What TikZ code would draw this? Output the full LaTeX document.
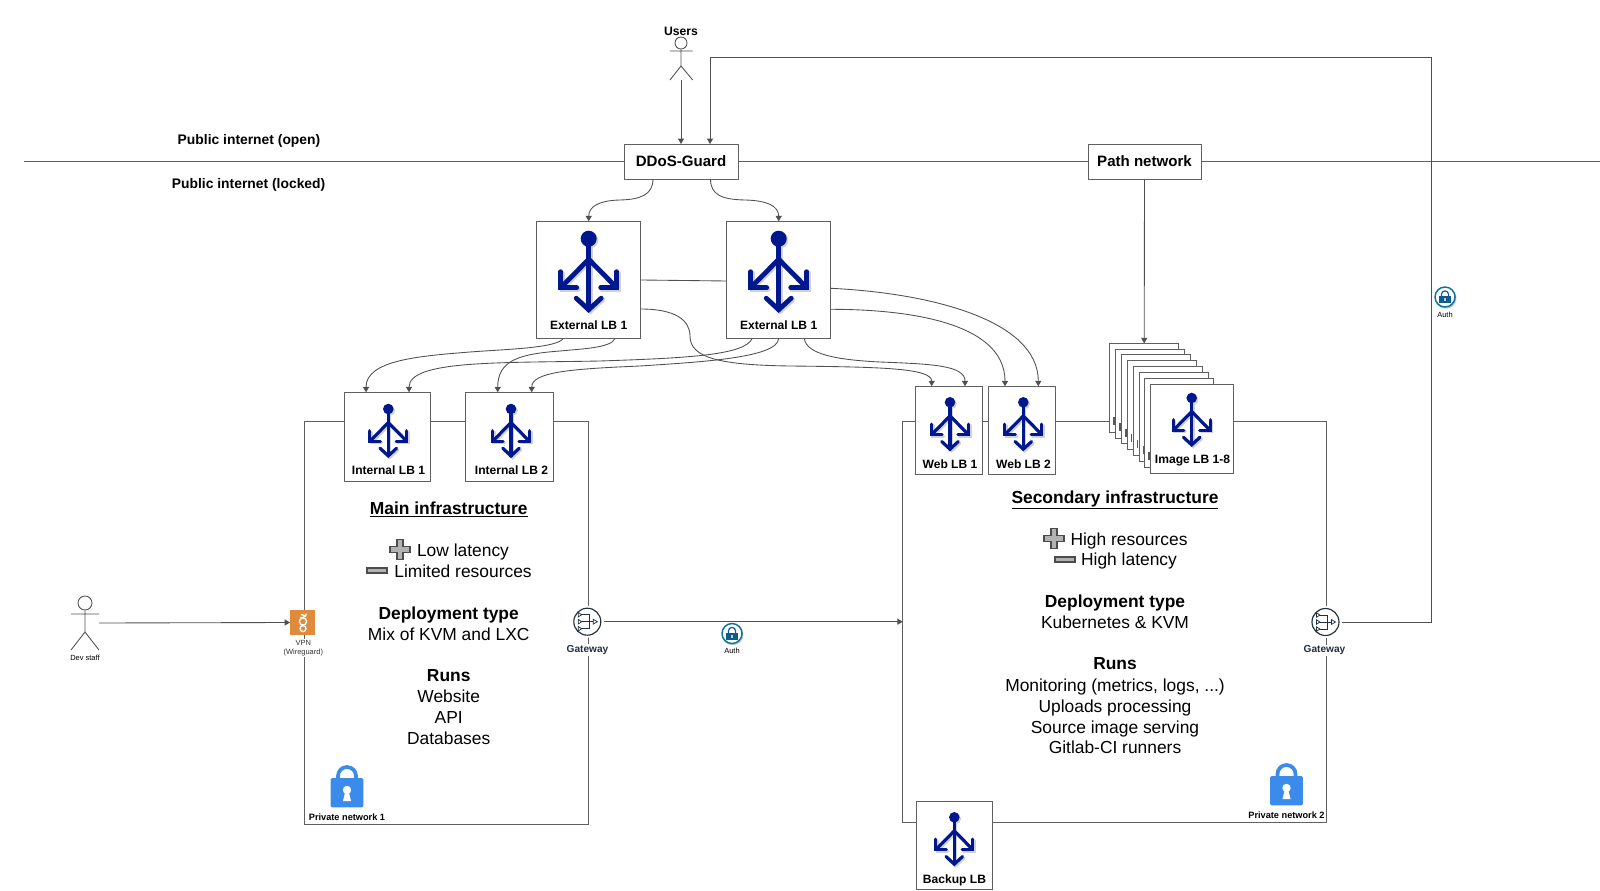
\documentclass[tikz,border=0pt]{standalone}
\usepackage{fontspec}
\setmainfont{Liberation Sans}
\usetikzlibrary{arrows.meta,calc}
\definecolor{lnk}{HTML}{505050}
\definecolor{netl}{HTML}{606060}
\definecolor{lbblue}{HTML}{00188F}
\definecolor{lockblue}{HTML}{3B8BEB}
\definecolor{navy}{HTML}{232F3E}
\definecolor{authc}{HTML}{0F5C8C}
\definecolor{wg}{HTML}{E08A3C}
\def\uu{0.75pt}
\tikzset{
  x=0.75pt,y=-0.75pt,
  conn/.style={draw=lnk,line width=0.65pt},
  arr/.style={conn,-{Triangle[width=4.5pt,length=4pt]}},
  netline/.style={draw=netl,line width=0.7pt},
  boxn/.style n args={2}{draw=netl,fill=white,line width=0.7pt,inner sep=0pt,outer sep=0pt,rectangle,minimum width=#1*\uu,minimum height=#2*\uu},
  lblabel/.style={font=\bfseries\fontsize{9.05}{11}\selectfont,inner sep=0pt,text height=8.5pt,text depth=2pt},
  bigb/.style={font=\bfseries\fontsize{13.05}{15}\selectfont,inner sep=0pt,text height=12pt,text depth=3pt},
  bign/.style={font=\fontsize{13.05}{15}\selectfont,inner sep=0pt,text height=12pt,text depth=3pt},
  pubt/.style={font=\bfseries\fontsize{10.4}{12}\selectfont,inner sep=0pt,text height=10.5pt,text depth=2.4pt},
  mainbox/.style={font=\bfseries\fontsize{11.3}{13}\selectfont},
  tiny/.style={font=\fontsize{5.6}{6.8}\selectfont,inner sep=0.5pt,align=center},
  privt/.style={font=\bfseries\fontsize{6.9}{9}\selectfont,inner sep=0pt},
  gwt/.style={font=\bfseries\fontsize{7.6}{9}\selectfont,text=navy,fill=white,inner sep=1pt},
  gwc/.style={circle,fill=white,inner sep=0pt,minimum size=32*\uu},
  actorl/.style={draw=lnk,line width=0.65pt},
}
\newcommand{\lbglyph}{%
  \fill (0,0) circle (8);
  \draw (0,0) -- (0,71);
  \draw (-12.5,59.5) -- (0,71) -- (12.5,59.5);
  \draw (28,49) -- (0,20.6) -- (-28,49);
  \draw (28,33) -- (28,49) -- (12,49);
  \draw (-28,33) -- (-28,49) -- (-12,49);
}
\newcommand{\lbicon}[3]{%
  \pgfmathsetmacro{\lw}{3.6*#3}
  \begin{scope}[shift={(#1+1.5,#2+1.5)},scale=#3,draw=black!18,fill=black!18,line width=\lw pt,line cap=round,line join=miter]\lbglyph\end{scope}
  \begin{scope}[shift={(#1,#2)},scale=#3,draw=lbblue,fill=lbblue,line width=\lw pt,line cap=round,line join=miter]\lbglyph\end{scope}
}
\newcommand{\lockicon}[2]{%
  \begin{scope}[shift={(#1,#2)}]
    \draw[lockblue,line width=2.8pt] (-9,14) -- (-9,10) arc[start angle=180,end angle=360,radius=9] -- (9,14);
    \fill[lockblue,rounded corners=1pt] (-16.3,12) rectangle (16.3,41.3);
    \fill[white] (0,24) circle (4.2);
    \fill[white] (-1.8,26) -- (1.8,26) -- (4,35) -- (-4,35) -- cycle;
  \end{scope}
}
\newcommand{\authicon}[2]{%
  \begin{scope}[shift={(#1,#2)}]
    \draw[black!25,line width=1pt] (0.8,1) circle (10);
    \draw[authc!85!cyan,fill=white,line width=1.1pt] (0,0) circle (10);
    \fill[authc] (-6,-0.5) rectangle (6,6.5);
    \draw[authc,line width=0.9pt] (-3.6,-0.5) -- (-3.6,-2.5) arc[start angle=180,end angle=360,radius=3.6] -- (3.6,-0.5);
    \fill[white!70!authc] (-1,1.5) rectangle (1,4.5);
  \end{scope}
}
\newcommand{\gwglyph}[2]{%
  \begin{scope}[shift={(#1,#2)},navy]
    \draw[line width=0.85pt] (0,0) circle (13.5);
    \draw[line width=0.6pt] (-8,-7) -- (2,-7) -- (2,7) -- (-8,7) (-8,0) -- (9,0);
    \foreach \yy in {-7,0,7}{\draw[line width=0.55pt,fill=white] (-9,\yy-2.2) -- (-5.6,\yy) -- (-9,\yy+2.2) -- cycle;}
    \draw[line width=0.55pt,fill=white] (6,-2.4) -- (10,0) -- (6,2.4) -- cycle;
  \end{scope}
}
\newcommand{\plusicon}[2]{%
  \draw[shift={(#1,#2)},draw=black!70,fill=black!30,line width=1pt] (-3,-10) -- (3,-10) -- (3,-3) -- (10,-3) -- (10,3) -- (3,3) -- (3,10) -- (-3,10) -- (-3,3) -- (-10,3) -- (-10,-3) -- (-3,-3) -- cycle;
}
\newcommand{\minusicon}[2]{%
  \draw[shift={(#1,#2)},draw=black!70,fill=black!30,line width=1pt] (-10,-2.5) rectangle (10,2.5);
}
\begin{document}
\begin{tikzpicture}
\useasboundingbox (0,0) rectangle (1600,891);
\fill[white] (0,0) rectangle (1600,891);

% public internet line
\coordinate (pubL) at (23.5,161);
\coordinate (pubR) at (1600,161);
\draw[netline] (pubL) -- (pubR);

% private networks
\draw[netline] (304,421.3) rectangle (588,824);
\draw[netline] (902.7,421.3) rectangle (1326,822);

% main boxes
\node[boxn={114}{35},mainbox] (ddos) at (681,161.5) {DDoS-Guard};
\node[boxn={113}{35},mainbox] (path) at (1144.5,161.5) {Path network};

\node[boxn={104}{117}] (ext1) at (588.7,279.8) {};
\node[boxn={104}{117}] (ext2) at (778.7,279.8) {};
\node[boxn={85.6}{89}] (int1) at (387.5,436.8) {};
\node[boxn={87.6}{89}] (int2) at (509.5,436.8) {};
\node[boxn={67}{88.7}] (web1) at (948.5,430.6) {};
\node[boxn={67}{88.7}] (web2) at (1022.2,430.6) {};
\node[boxn={75.8}{88.3}] (backup) at (954.6,845.8) {};

% image LB stack
\node[boxn={69}{89}] (img1) at (1144.2,387.8) {};
\node[boxn={69}{89}] (img2) at (1150.1,393.6) {};
\node[boxn={69}{89}] (img3) at (1156,399.4) {};
\node[boxn={69}{89}] (img4) at (1161.8,405.2) {};
\node[boxn={69}{89}] (img5) at (1167.7,411) {};
\node[boxn={69}{89}] (img6) at (1173.6,416.8) {};
\node[boxn={69}{89}] (img7) at (1179.4,422.6) {};
\foreach \n/\xx/\yy in {1/1114/417,2/1119.9/422.8,3/1125.8/428.6,4/1131.6/434.4,5/1137.5/440.2,6/1143.4/446,7/1149.2/451.8}{
  \draw[black!65,line width=1.3pt] (\xx,\yy) -- (\xx,\yy+8);
}
\node[boxn={83}{89}] (img8) at (1192.2,428.5) {};

% icons
\lbicon{588.7}{238.7}{1}
\lbicon{778.7}{238.7}{1}
\lbicon{388.3}{409}{0.66}
\lbicon{511}{409}{0.66}
\lbicon{950}{402.3}{0.66}
\lbicon{1023.3}{402.3}{0.66}
\lbicon{954.3}{817.3}{0.66}
\lbicon{1191.7}{398}{0.66}

% box labels
\node[lblabel] (ext1t) at (588.7,325) {External LB 1};
\node[lblabel] (ext2t) at (778.7,325) {External LB 1};
\node[lblabel] (int1t) at (388.5,470.5) {Internal LB 1};
\node[lblabel] (int2t) at (511.5,470.5) {Internal LB 2};
\node[lblabel] (web1t) at (950,463.7) {Web LB 1};
\node[lblabel] (web2t) at (1023.5,463.7) {Web LB 2};
\node[lblabel] (backupt) at (954.5,879) {Backup LB};
\node[lblabel] (img8t) at (1192.5,459.5) {Image LB 1-8};

% public labels
\node[pubt] (pubo) at (249,139.5) {Public internet (open)};
\node[pubt] (publ) at (248.6,183) {Public internet (locked)};

% users actor
\node[font=\bfseries\fontsize{9.15}{11}\selectfont,inner sep=0pt] (userst) at (681,31.4) {Users};
\node[circle,draw=lnk,line width=0.65pt,fill=white,inner sep=0pt,minimum size=12*\uu] (usersh) at (681,43) {};
\coordinate (usersb) at (681,66);
\coordinate (usersf) at (681,80);
\draw[actorl] (usersh.south) -- (usersb) (670,51) -- (692.7,51) (670,80) -- (usersb) -- (692.7,80);

% dev staff actor
\node[font=\fontsize{5.6}{7}\selectfont,inner sep=0pt] (devt) at (85,657.5) {Dev staff};
\node[circle,draw=lnk,line width=0.65pt,fill=white,inner sep=0pt,minimum size=14*\uu] (devh) at (85,603) {};
\coordinate (devb) at (85,632);
\coordinate (devs) at (99,623);
\draw[actorl] (devh.south) -- (devb) (71,614) -- (99,614) (71,650) -- (devb) -- (99,650);

% vpn
\node[tiny,fill=white,text=black!80] (vpnt) at (303.3,648) {VPN\\(Wireguard)};
\node[rectangle,fill=wg,inner sep=0pt,minimum size=25*\uu] (vpn) at (302.8,622.5) {};
\begin{scope}[white,line width=1pt]
  \draw (303,621.5) circle (3.6);
  \draw (303,628.6) circle (3);
  \draw (300,617.5) .. controls (304,618) and (307,616) .. (306,613.5);
  \draw (301,614.5) -- (305,615.5);
\end{scope}

% gateways
\node[gwc] (gw1) at (587.3,621.7) {};
\gwglyph{587.3}{621.7}
\node[gwt] (gw1t) at (587.5,649.6) {Gateway};
\node[gwc] (gw2) at (1325.5,622) {};
\gwglyph{1325.5}{622}
\node[gwt] (gw2t) at (1324.5,650.5) {Gateway};

% auth icons
\authicon{732}{633.5}
\node[tiny] (auth1t) at (732,650.7) {Auth};
\authicon{1445}{297}
\node[tiny] (auth2t) at (1445,314.5) {Auth};

% locks
\lockicon{347}{766}
\node[privt] (priv1) at (347,817) {Private network 1};
\lockicon{1286.5}{764}
\node[privt] (priv2) at (1286.5,815) {Private network 2};

% main infrastructure text
\node[bigb] (m1) at (448.7,508.5) {\underline{Main infrastructure}};
\plusicon{400}{549.5}
\node[bign] (m2) at (463,550) {Low latency};
\minusicon{377}{570.5}
\node[bign] (m3) at (463,571) {Limited resources};
\node[bigb] (m4) at (448.7,613) {Deployment type};
\node[bign] (m5) at (448.7,634) {Mix of KVM and LXC};
\node[bigb] (m6) at (448.7,675.5) {Runs};
\node[bign] (m7) at (448.7,696) {Website};
\node[bign] (m8) at (448.7,717) {API};
\node[bign] (m9) at (448.7,738) {Databases};

% secondary text
\node[bigb] (s1) at (1115,497) {\underline{Secondary infrastructure}};
\plusicon{1054}{538.5}
\node[bign] (s2) at (1129,539) {High resources};
\minusicon{1065}{559.5}
\node[bign] (s3) at (1129,559.5) {High latency};
\node[bigb] (s4) at (1115,601.5) {Deployment type};
\node[bign] (s5) at (1115,622) {Kubernetes \& KVM};
\node[bigb] (s6) at (1115,663.5) {Runs};
\node[bign] (s7) at (1115,685) {Monitoring (metrics, logs, ...)};
\node[bign] (s8) at (1115,706) {Uploads processing};
\node[bign] (s9) at (1115,727) {Source image serving};
\node[bign] (s10) at (1115,747.5) {Gitlab-CI runners};

% straight connectors
\draw[arr] (usersf) -- (ddos.north);
\draw[arr] (devs) -- (vpn.west);
\coordinate (net2in) at (902.7,621.7);
\draw[arr] (gw1.east |- net2in) -- (net2in);
\draw[arr] (gw2.east) -- (1431.7,622) -- (1431.7,57) -- (710,57) -- ($(ddos.north)+(29,0)$);
\draw[arr] (path.south) -- (img1.north);
\draw[conn] ($(ext1.east)+(0,0.2)$) -- ($(ext2.west)+(0,1.2)$);

% curved connectors
\draw[arr] ($(ddos.south)+(-28,0)$) .. controls (653,195) and (640,199.5) .. (620,200) .. controls (600,200.5) and (588.7,206) .. (ext1.north);
\draw[arr] ($(ddos.south)+(29.5,0)$) .. controls (710.5,195) and (722,199.5) .. (745,200) .. controls (767,200.5) and (778.7,206) .. (ext2.north);

\draw[arr] ($(ext1.south)+(-25.4,0)$) .. controls (557,348) and (510,349) .. (470,352) .. controls (420,356) and (366,360) .. ($(int1.north)+(-21.5,0)$);
\draw[arr] ($(ext1.south)+(26.3,0)$) .. controls (612,348) and (580,349) .. (560,351) .. controls (520,354) and (497.7,360) .. ($(int2.north)+(-11.8,0)$);
\draw[arr] ($(ext2.south)+(-26.4,0)$) .. controls (745,355) and (690,358) .. (600,361) .. controls (500,363) and (409,360) .. ($(int1.north)+(21.5,0)$);
\draw[arr] (ext2.south) .. controls (778,358) and (700,362) .. (640,366) .. controls (570,369) and (531.7,372) .. ($(int2.north)+(22.2,0)$);

\draw[arr] ($(ext1.east)+(0,29.2)$) .. controls (675,309) and (690,320) .. (690,336) .. controls (690,358) and (720,365) .. (790,366) .. controls (880,367) and (931.7,368) .. ($(web1.north)+(-16.8,0)$);
\draw[arr] ($(ext2.south)+(25.6,0)$) .. controls (806,355) and (840,360) .. (880,362) .. controls (930,364) and (965,365) .. ($(web1.north)+(16.5,0)$);
\draw[arr] ($(ext2.east)+(0,29.5)$) .. controls (900,309.3) and (1005,320) .. ($(web2.north)+(-17.2,0)$);
\draw[arr] ($(ext2.east)+(0,8.5)$) .. controls (930,293) and (1038.3,320) .. ($(web2.north)+(16.1,0)$);
\end{tikzpicture}
\end{document}
